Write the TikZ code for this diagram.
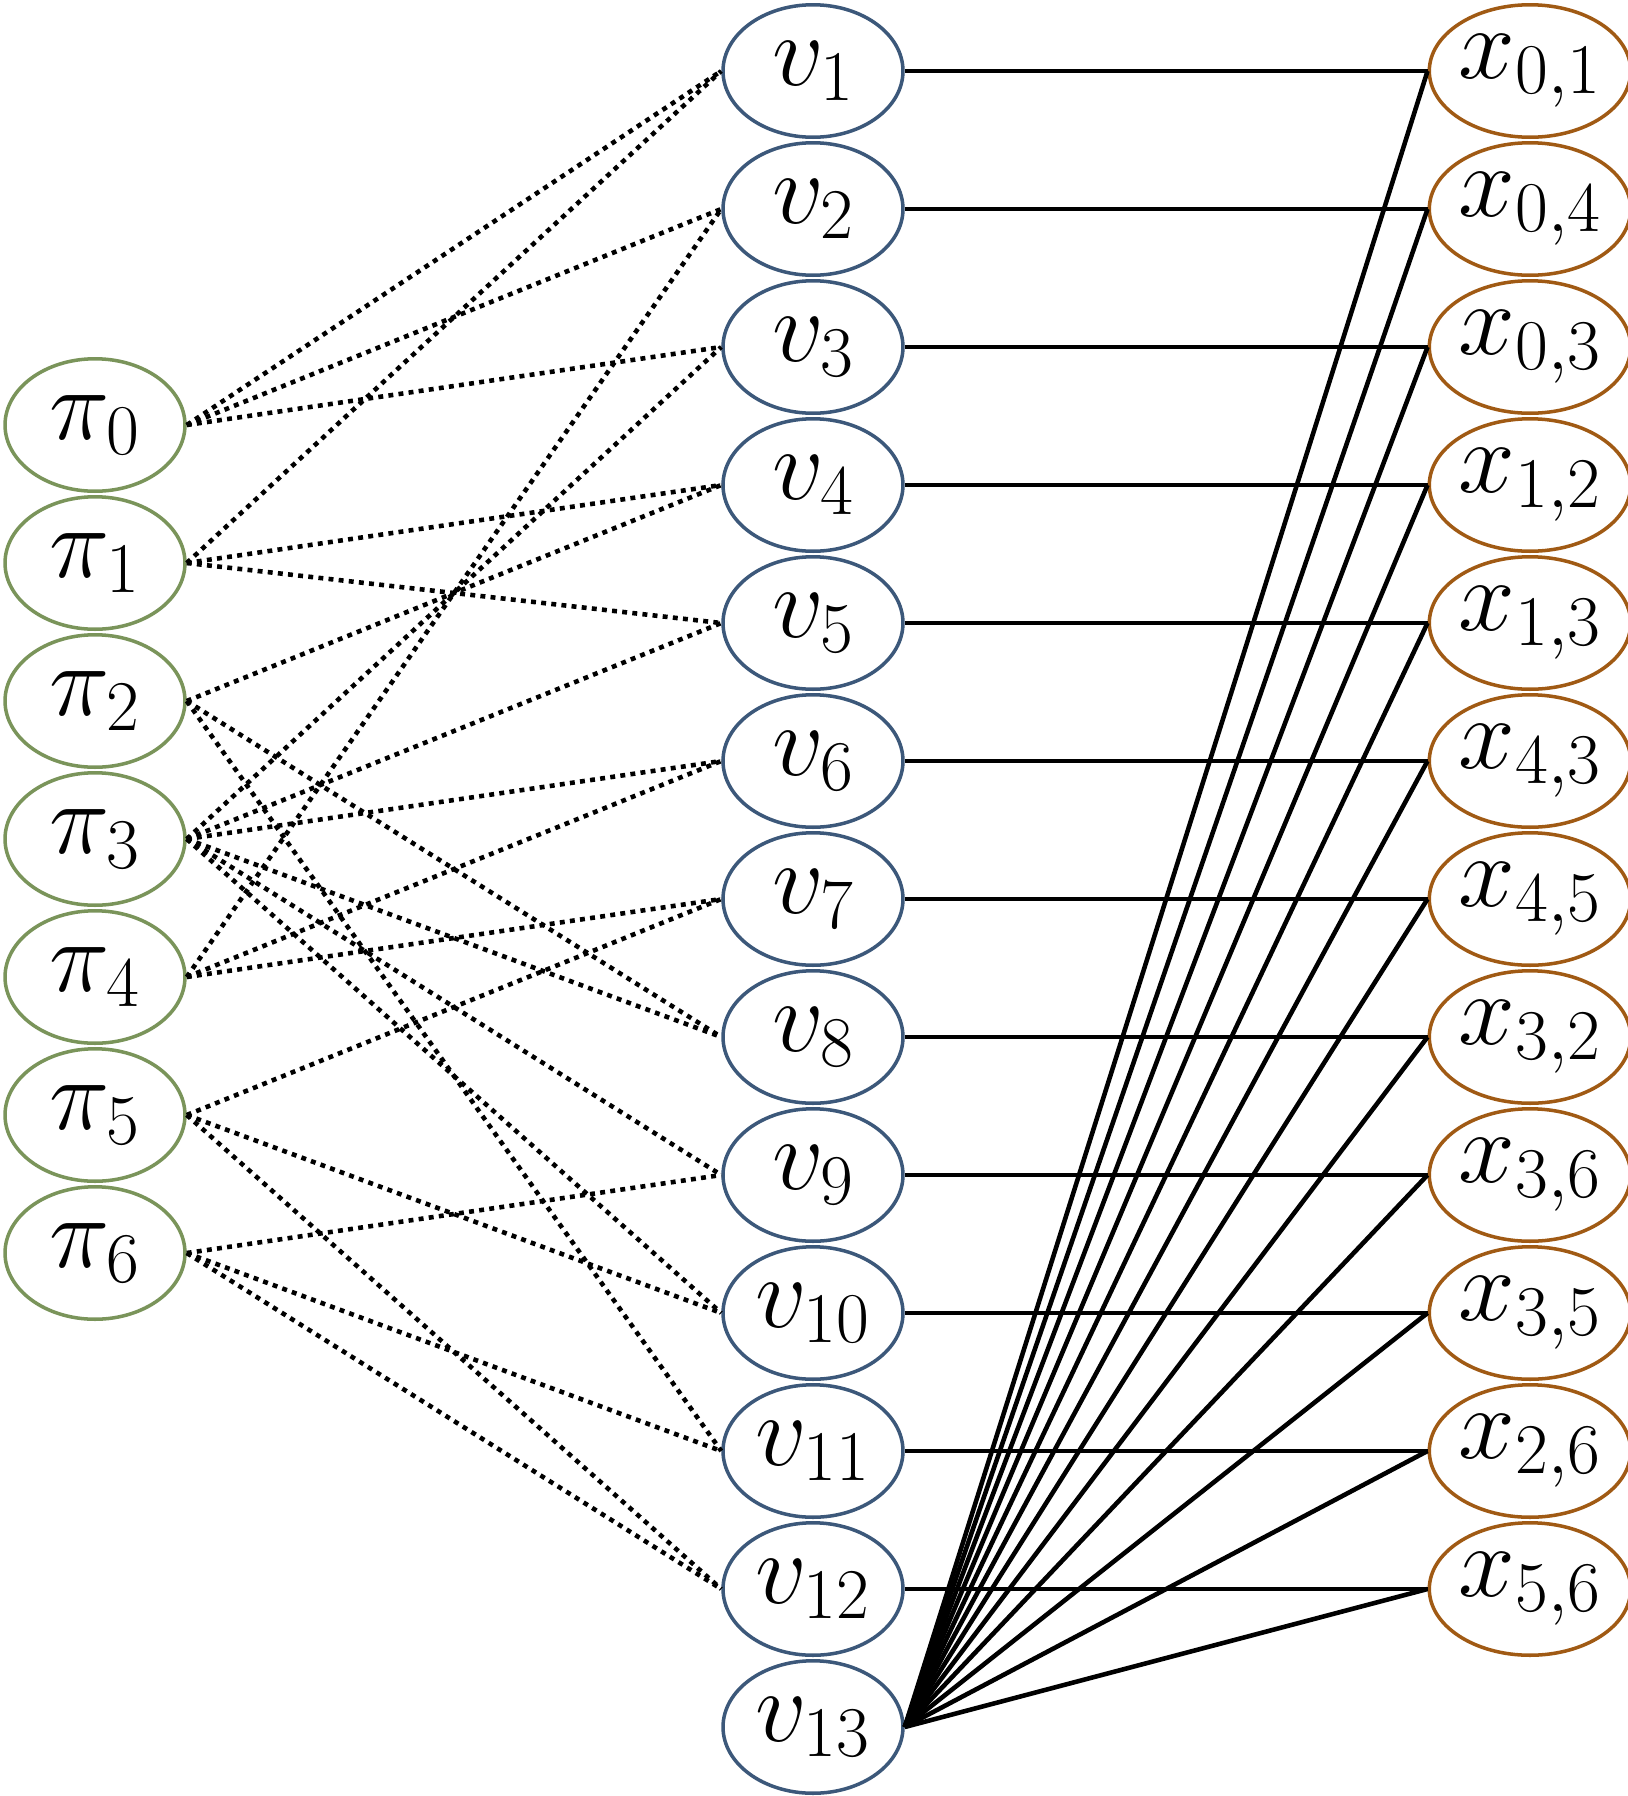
\RequirePackage{fix-cm}
\documentclass[tikz,border=0pt]{standalone}
\usetikzlibrary{shapes.geometric}
\definecolor{pigreen}{RGB}{122,148,90}
\definecolor{vblue}{RGB}{60,88,122}
\definecolor{xorange}{RGB}{160,90,20}
\tikzset{every node/.style={ellipse, line width=2pt, minimum width=3.6cm,
           minimum height=2.65cm, inner sep=0pt, font=\fontsize{58}{62}\selectfont},
         pinode/.style={draw=pigreen},
         vnode/.style={draw=vblue},
         xnode/.style={draw=xorange},
         link/.style={line width=2.6pt},
         dotlink/.style={line width=2.6pt, dash pattern=on 2.8pt off 3pt}}
\begin{document}
\begin{tikzpicture}[x=0.02cm, y=-0.02cm]
  \useasboundingbox (0,0) rectangle (1627,1796);

  % left column
  \foreach \i in {0,...,6}
    \node [pinode] (pi\i) at (95, 425+138*\i) {$\pi_{\i}$};

  % middle column
  \foreach \j in {1,...,13}
    \node [vnode] (v\j) at (813, 71+138*\j-138) {$v_{\j}$};

  % right column
  \foreach \lab [count=\k] in {{0,1},{0,4},{0,3},{1,2},{1,3},{4,3},{4,5},{3,2},{3,6},{3,5},{2,6},{5,6}}
    \node [xnode] (x\k) at (1530, 71+138*\k-138) {$x_{\lab}$};

  % solid links
  \foreach \k in {1,...,12} {
    \draw [link] (v\k.east) -- (x\k.west);
    \draw [link] (v13.east) -- (x\k.west);
  }

  % dotted links
  \foreach \a/\b in {0/1,0/2,0/3,1/1,1/4,1/5,2/4,2/8,2/11,
                     3/3,3/5,3/6,3/8,3/9,3/10,4/2,4/6,4/7,
                     5/7,5/10,5/12,6/9,6/11,6/12}
    \draw [dotlink] (pi\a.east) -- (v\b.west);
\end{tikzpicture}
\end{document}
